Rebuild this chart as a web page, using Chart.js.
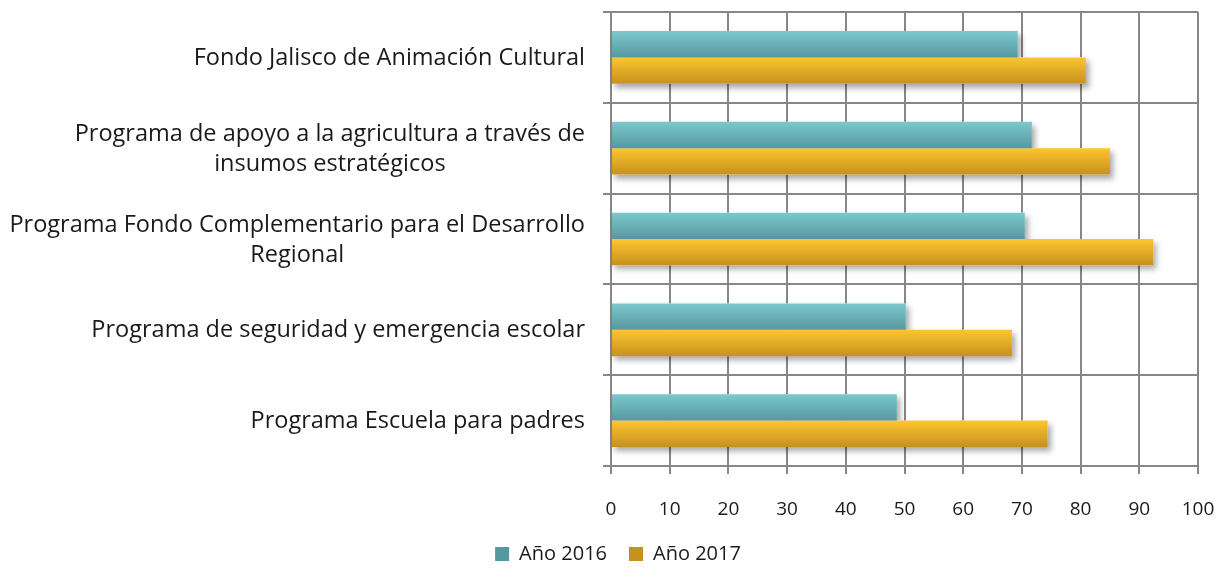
<!DOCTYPE html>
<html>
<head>
<meta charset="utf-8">
<script src="https://cdn.jsdelivr.net/npm/chart.js@4/dist/chart.umd.min.js"></script>
<style>
    html, body { margin: 0; padding: 0; background: #ffffff; }
    #wrap { width: 1220px; height: 569px; position: relative; }
</style>
</head>
<body>
<div id="wrap"><canvas id="chart"></canvas></div>
<script>
"use strict";

// data
const categories = [
    ["Fondo Jalisco de Animación Cultural"],
    ["Programa de apoyo a la agricultura a través de", "insumos estratégicos"],
    ["Programa Fondo Complementario para el Desarrollo", "Regional"],
    ["Programa de seguridad y emergencia escolar"],
    ["Programa Escuela para padres"]
];
const seriesNames = ["Año 2016", "Año 2017"];
const values2016 = [69.3, 71.7, 70.5, 50.2, 48.7];
const values2017 = [80.9, 85.0, 92.4, 68.3, 74.4];
const xMin = 0;
const xMax = 100;
const xStep = 10;

(() => {

    const catPct = 0.58;
    const labelFont = "23.5px 'Open Sans'";
    const lineHeight = 30;
    const gridColor = "#878787";
    const padLeft = 38;

    // vertical gradient for each bar, placed from the category scale
    function barGradient(which, top, bottom, flat) {
        return (context) => {
            const chart = context.chart;
            const yScale = chart.scales.y;
            if (context.type !== "data" || !yScale || !chart.chartArea) {
                return flat;
            }
            const center = yScale.getPixelForValue(context.dataIndex);
            const band = (yScale.height / categories.length) * catPct / 2;
            const y0 = which === 0 ? center - band : center;
            const grad = chart.ctx.createLinearGradient(0, y0, 0, y0 + band);
            grad.addColorStop(0, top);
            grad.addColorStop(1, bottom);
            return grad;
        };
    }

    // soft drop shadow under the bars
    const barShadow = {
        id: "barShadow",
        beforeDatasetsDraw(chart) {
            const ctx = chart.ctx;
            ctx.save();
            ctx.shadowColor = "rgba(0, 0, 0, 0.35)";
            ctx.shadowBlur = 6;
            ctx.shadowOffsetX = 3;
            ctx.shadowOffsetY = 4;
            ctx.fillStyle = "#ffffff";
            chart.getSortedVisibleDatasetMetas().forEach((meta) => {
                meta.data.forEach((bar) => {
                    const p = bar.getProps(["x", "y", "base", "height"], true);
                    ctx.fillRect(p.base, p.y - p.height / 2, p.x - p.base, p.height);
                });
            });
            ctx.restore();
        }
    };

    // category labels: right edge fixed, each block centred on itself
    const categoryLabels = {
        id: "categoryLabels",
        afterDraw(chart) {
            const yScale = chart.scales.y;
            const ctx = chart.ctx;
            const right = yScale.right - 26;
            ctx.save();
            ctx.font = labelFont;
            ctx.fillStyle = "#1a1a1a";
            ctx.textAlign = "center";
            ctx.textBaseline = "middle";
            categories.forEach((lines, i) => {
                const mid = yScale.getPixelForTick(i) + 1;
                const widest = Math.max(...lines.map((l) => ctx.measureText(l).width));
                const cx = right - widest / 2;
                const top = mid - (lines.length - 1) * lineHeight / 2;
                lines.forEach((line, j) => {
                    ctx.fillText(line, cx, top + j * lineHeight);
                });
            });
            ctx.restore();
        }
    };

    const ctx = document.getElementById("chart");

    new Chart(ctx, {
        type: "bar",
        data: {
            labels: categories,
            datasets: [
                {
                    label: seriesNames[0],
                    data: values2016,
                    backgroundColor: barGradient(0, "#7bc9ce", "#5797a0", "#68b0b8"),
                    categoryPercentage: catPct,
                    barPercentage: 1
                },
                {
                    label: seriesNames[1],
                    data: values2017,
                    backgroundColor: barGradient(1, "#fcc52f", "#c7911e", "#e6ab27"),
                    categoryPercentage: catPct,
                    barPercentage: 1
                }
            ]
        },
        options: {
            indexAxis: "y",
            responsive: true,
            maintainAspectRatio: false,
            animation: false,
            layout: {
                padding: { top: 12, right: 22, bottom: 0, left: padLeft }
            },
            scales: {
                x: {
                    min: xMin,
                    max: xMax,
                    ticks: {
                        stepSize: xStep,
                        color: "#1a1a1a",
                        padding: 24,
                        font: { family: "'Open Sans'", size: 19 }
                    },
                    grid: {
                        color: gridColor,
                        lineWidth: 2,
                        tickLength: 8
                    },
                    border: { display: false },
                    afterFit(scale) {
                        scale.height = 56;
                        scale.paddingLeft = 0;
                        scale.paddingRight = 0;
                    }
                },
                y: {
                    ticks: { display: false },
                    grid: {
                        color: gridColor,
                        lineWidth: 2,
                        tickLength: 8,
                        offset: true
                    },
                    border: { color: gridColor, width: 2 },
                    afterFit(scale) {
                        scale.width = 611 - padLeft;
                    }
                }
            },
            plugins: {
                legend: {
                    position: "bottom",
                    maxHeight: 47,
                    labels: {
                        boxWidth: 14,
                        boxHeight: 14,
                        padding: 22,
                        color: "#1a1a1a",
                        font: { family: "'Open Sans'", size: 20 }
                    }
                },
                tooltip: { enabled: false }
            }
        },
        plugins: [barShadow, categoryLabels]
    });

})();
</script>
</body>
</html>
